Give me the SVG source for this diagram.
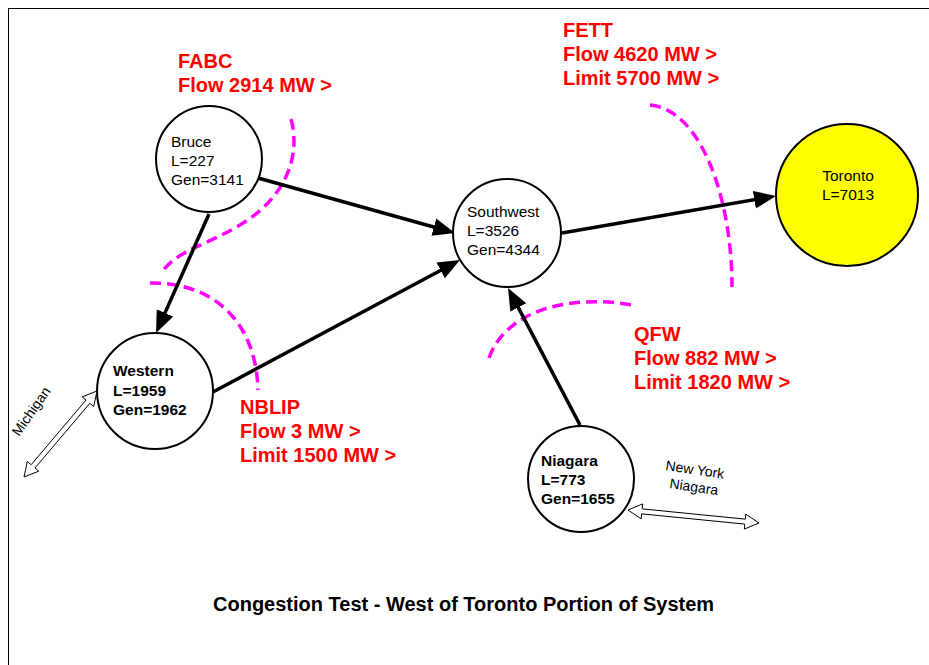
<svg xmlns="http://www.w3.org/2000/svg" width="929" height="665" viewBox="0 0 929 665">
  <style>
    text { font-family: "Liberation Sans", Arial, sans-serif; }
    .node { fill: #ffffff; stroke: #000000; stroke-width: 2; }
    .lbl { font-size: 15.5px; fill: #000000; }
    .bold { font-weight: bold; }
    .cut { fill: none; stroke: #ff00ff; stroke-width: 3.5; stroke-dasharray: 11 6; }
    .flow { fill: none; stroke: #000000; stroke-width: 3.5; marker-end: url(#head); }
    .red { font-size: 20px; font-weight: bold; fill: #ff0000; }
    .tie { fill: #ffffff; stroke: #000000; stroke-width: 1; }
    .small { font-size: 14px; fill: #000000; }
  </style>
  <defs>
    <marker id="head" markerUnits="userSpaceOnUse" markerWidth="24" markerHeight="20" refX="12" refY="9" orient="auto">
      <path d="M0,0 L22,9 L0,18 Z" fill="#000000"/>
    </marker>
  </defs>

  <rect x="0" y="0" width="929" height="665" fill="#ffffff"/>
  <rect x="8.5" y="8.5" width="940" height="700" fill="none" stroke="#000000" stroke-width="1"/>

  <!-- interface cut lines -->
  <g id="cuts">
    <path class="cut" d="M291,119 C302,160 282,200 240,225 C205,246 178,250 162,272"/>
    <path class="cut" d="M150,283 C212,282 256,320 258,390"/>
    <path class="cut" d="M650,105 C702,110 732,200 732,287"/>
    <path class="cut" d="M489,358 C506,310 570,294 632,305"/>
  </g>

  <!-- power flows between zones -->
  <g id="connectors">
    <path class="flow" d="M258,178 L445.4,230.3"/>
    <path class="flow" d="M209,214 L160.1,323.9"/>
    <path class="flow" d="M213,392 L451.2,264.7"/>
    <path class="flow" d="M562,233 L766.1,197.7"/>
    <path class="flow" d="M580,425 L512.7,296.9"/>
  </g>

  <g id="bruce">
    <circle class="node" cx="209" cy="159" r="53"/>
    <text class="lbl" x="171" y="147">Bruce</text>
    <text class="lbl" x="171" y="166">L=227</text>
    <text class="lbl" x="171" y="185">Gen=3141</text>
  </g>

  <g id="southwest">
    <circle class="node" cx="507" cy="233" r="54"/>
    <text class="lbl" x="467" y="217">Southwest</text>
    <text class="lbl" x="467" y="236">L=3526</text>
    <text class="lbl" x="467" y="255">Gen=4344</text>
  </g>

  <g id="western">
    <circle class="node" cx="155" cy="391" r="58"/>
    <text class="lbl bold" x="113" y="376">Western</text>
    <text class="lbl bold" x="113" y="396">L=1959</text>
    <text class="lbl bold" x="113" y="415">Gen=1962</text>
  </g>

  <g id="niagara">
    <circle class="node" cx="581" cy="479" r="53"/>
    <text class="lbl bold" x="541" y="466">Niagara</text>
    <text class="lbl bold" x="541" y="485">L=773</text>
    <text class="lbl bold" x="541" y="504">Gen=1655</text>
  </g>

  <g id="toronto">
    <circle cx="847" cy="195" r="71" fill="#ffff00" stroke="#000000" stroke-width="2"/>
    <text class="lbl" x="848" y="181" text-anchor="middle">Toronto</text>
    <text class="lbl" x="848" y="200" text-anchor="middle">L=7013</text>
  </g>

  <!-- external ties -->
  <g id="michigan">
    <polygon class="tie" points="97,391 93.66,406.52 89.85,403.29 34.97,467.95 38.78,471.18 24,477 27.34,461.48 31.15,464.71 86.03,400.05 82.22,396.82"/>
    <text class="small" font-size="13.5" transform="translate(19,437) rotate(-55)">Michigan</text>
  </g>

  <g id="newyork">
    <polygon class="tie" points="628,510 641.19,518.84 641.68,513.87 744.82,524.11 744.33,529.08 759,523 745.81,514.16 745.32,519.13 642.18,508.89 642.67,503.92"/>
    <text class="small" transform="translate(665,470) rotate(8.5)">New York</text>
    <text class="small" transform="translate(669,488) rotate(8.5)">Niagara</text>
  </g>

  <!-- interface labels -->
  <g id="fabc">
    <text class="red" x="178" y="68">FABC</text>
    <text class="red" x="178" y="92">Flow 2914 MW &gt;</text>
  </g>
  <g id="fett">
    <text class="red" x="563" y="37">FETT</text>
    <text class="red" x="563" y="61">Flow 4620 MW &gt;</text>
    <text class="red" x="563" y="85">Limit 5700 MW &gt;</text>
  </g>
  <g id="qfw">
    <text class="red" x="634" y="341">QFW</text>
    <text class="red" x="634" y="365">Flow 882 MW &gt;</text>
    <text class="red" x="634" y="389">Limit 1820 MW &gt;</text>
  </g>
  <g id="nblip">
    <text class="red" x="240" y="414">NBLIP</text>
    <text class="red" x="240" y="438">Flow 3 MW &gt;</text>
    <text class="red" x="240" y="462">Limit 1500 MW &gt;</text>
  </g>

  <text x="213" y="611" font-size="20px" font-weight="bold" fill="#000000">Congestion Test - West of Toronto Portion of System</text>
</svg>
